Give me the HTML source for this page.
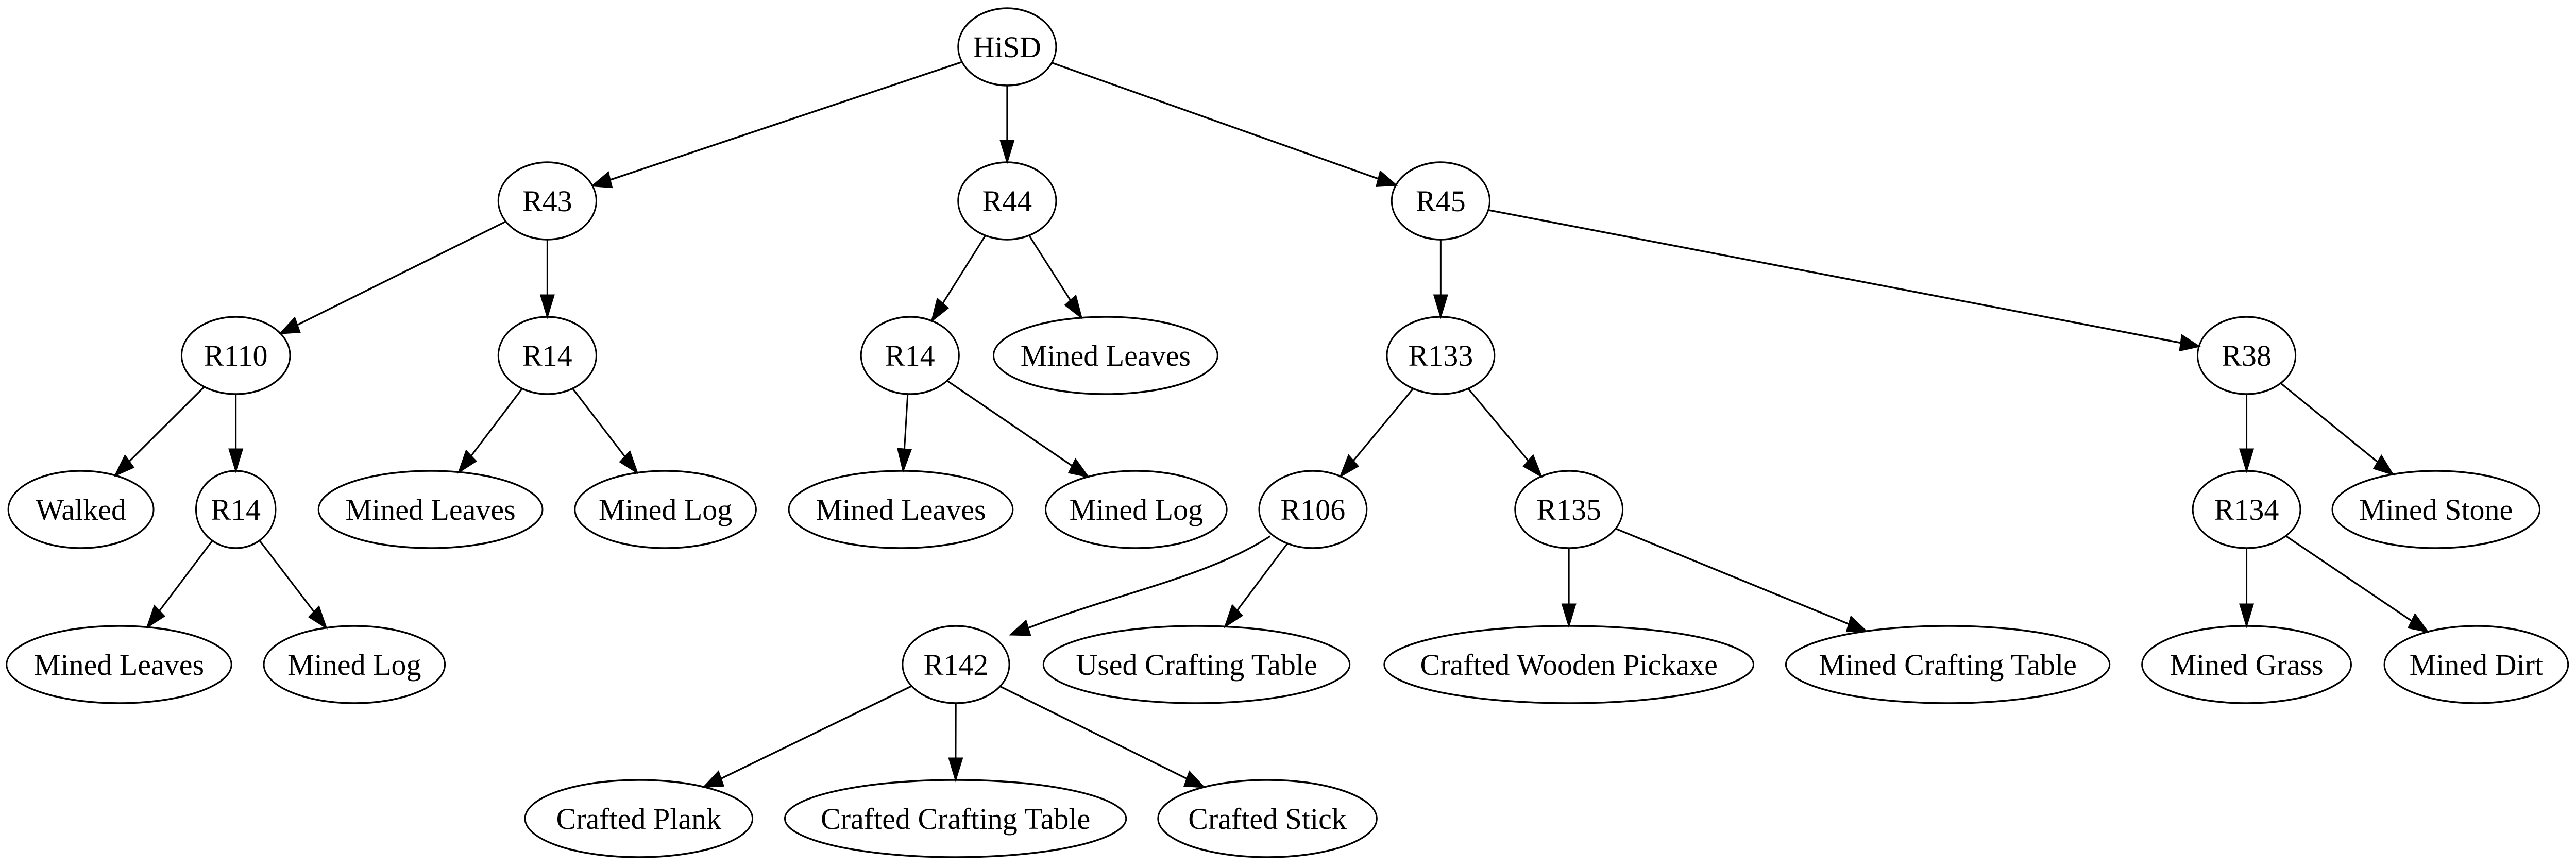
<!DOCTYPE html>
<html><head><meta charset="utf-8">
<style>
html,body{margin:0;padding:0;background:#fff;overflow:hidden;width:100%;height:100%;}
svg{display:block;width:100vw;height:100vh;}
text{font-family:"Liberation Serif",serif;font-size:58px;fill:#000;}
</style></head>
<body>
<svg id="g" viewBox="0 0 5888 1683" preserveAspectRatio="none" xmlns="http://www.w3.org/2000/svg">
<rect width="5888" height="1683" fill="#fff"/>
<path d="M2903,1041 C2760,1120 2560,1150 2350,1219" fill="none" stroke="#000" stroke-width="3.5"/>
<polygon points="2310,1232 2345,1205 2355,1233" fill="#000" stroke="#000" stroke-width="3"/>
</svg>
<script>
var R=[91,390,690,989,1290,1589], RY=75;
var N={
HiSD:[2302,0,112,"HiSD"],
R43:[1251,1,112,"R43"],R44:[2302,1,112,"R44"],R45:[3293,1,112,"R45"],
R110:[539,2,124,"R110"],R14a:[1251,2,112,"R14"],R14b:[2080,2,112,"R14"],ML1:[2527,2,256,"Mined Leaves"],R133:[3293,2,123,"R133"],R38:[5135,2,112,"R38"],
Walked:[185,3,166,"Walked"],R14c:[539,3,91,"R14"],ML2:[984,3,256,"Mined Leaves"],MLog1:[1521,3,207,"Mined Log"],ML3:[2059,3,256,"Mined Leaves"],MLog2:[2597,3,207,"Mined Log"],R106:[3001,3,123,"R106"],R135:[3586,3,123,"R135"],R134:[5135,3,123,"R134"],MS:[5568,3,237,"Mined Stone"],
ML4:[272,4,257,"Mined Leaves"],MLog3:[810,4,207,"Mined Log"],R142:[2185,4,122,"R142"],UCT:[2735,4,350,"Used Crafting Table"],CWP:[3586,4,422,"Crafted Wooden Pickaxe"],MCT:[4452,4,370,"Mined Crafting Table"],MG:[5135,4,239,"Mined Grass"],MD:[5660,4,210,"Mined Dirt"],
CP:[1460,5,260,"Crafted Plank"],CCT:[2184,5,390,"Crafted Crafting Table"],CS:[2897,5,250,"Crafted Stick"]
};
var E=[["HiSD","R43"],["HiSD","R44"],["HiSD","R45"],["R43","R110"],["R43","R14a"],["R44","R14b"],["R44","ML1"],["R45","R133"],["R45","R38"],
["R110","Walked"],["R110","R14c"],["R14a","ML2"],["R14a","MLog1"],["R14b","ML3"],["R14b","MLog2"],["R133","R106"],["R133","R135"],["R38","R134"],["R38","MS"],
["R14c","ML4"],["R14c","MLog3"],["R106","UCT"],["R135","CWP"],["R135","MCT"],["R134","MG"],["R134","MD"],
["R142","CP"],["R142","CCT"],["R142","CS"]];
var sx0=(window.innerWidth||5888)/5888, sy0=(window.innerHeight||1683)/1683, k=sy0/sx0;
if(!isFinite(k)||k<=0)k=1;
var s='';
function bd(rx,dx,dy){return 1/Math.sqrt((dx/rx)*(dx/rx)+(dy/RY)*(dy/RY));}
E.forEach(function(e){
 var a=N[e[0]],b=N[e[1]];
 var ax=a[0],ay=R[a[1]],bx=b[0],by=R[b[1]];
 var dx=bx-ax,dy=by-ay,l=Math.sqrt(dx*dx+dy*dy);dx/=l;dy/=l;
 var t1=bd(a[2],dx,dy),t2=bd(b[2],dx,dy);
 var sx=ax+dx*t1,sy=ay+dy*t1,tx=bx-dx*t2,ty=by-dy*t2;
 var L=42,W=15,bx2=tx-dx*L,by2=ty-dy*L;
 s+='<line x1="'+sx+'" y1="'+sy+'" x2="'+bx2+'" y2="'+by2+'" stroke="#000" stroke-width="3.5"/>';
 s+='<polygon points="'+tx+','+ty+' '+(bx2-dy*W)+','+(by2+dx*W)+' '+(bx2+dy*W)+','+(by2-dx*W)+'" fill="#000" stroke="#000" stroke-width="3"/>';
});
for(var key in N){var n=N[key];var y=R[n[1]];
 s+='<ellipse cx="'+n[0]+'" cy="'+y+'" rx="'+n[2]+'" ry="'+RY+'" fill="none" stroke="#000" stroke-width="3.5"/>';
 s+='<text x="0" y="0" text-anchor="middle" transform="translate('+n[0]+','+(y+20)+') scale('+k+',1)">'+n[3]+'</text>';
}
document.getElementById('g').insertAdjacentHTML('beforeend',s);
</script>
</body></html>
